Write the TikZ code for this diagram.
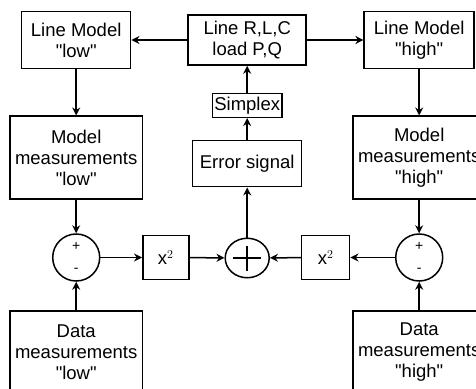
\documentclass[tikz,border=0pt]{standalone}
\usepackage{fontspec}
\setmainfont{Liberation Sans}
\usetikzlibrary{arrows.meta,shapes.geometric}
\newcommand{\qt}[1]{\textquotedbl#1\textquotedbl}

\begin{document}
\begin{tikzpicture}[x=1pt,y=1pt,>={Stealth[length=8pt,width=8pt]},line width=1.5pt]
        \tikzstyle{box}=[draw,align=center,inner sep=0pt,font=\fontsize{18.5}{21}\selectfont]
        \tikzstyle{sum}=[draw,circle,align=center,inner sep=0pt,minimum size=47pt,font=\fontsize{14}{22}\selectfont]
        \clip (0,0) rectangle (476,-388);

        \node[box,minimum width=118pt,minimum height=50pt] (RLC) at (247.2,-40) {Line R,L,C\\load P,Q};
        \node[box,minimum width=109pt,minimum height=56.6pt] (LML) [left of=RLC,node distance=171pt] {Line Model\\\qt{low}};
        \node[box,minimum width=110pt,minimum height=56.6pt] (LMH) [right of=RLC,node distance=172pt] {Line Model\\\qt{high}};
        \node[box,minimum width=69.4pt,minimum height=24pt] (S) [below of=RLC,node distance=65.3pt] {Simplex};
        \node[box,minimum width=109pt,minimum height=46pt] (E) [below of=S,node distance=58.4pt] {Error signal};
        \node[draw,ellipse,inner sep=0pt,minimum width=44pt,minimum height=39.5pt] (SC) [below of=E,node distance=94.3pt] {};

        \node[box,minimum width=132.3pt,minimum height=82.6pt] (MML) [below of=LML,node distance=117.5pt] {Model\\measurements\\\qt{low}};
        \node[sum] (SL) [below of=MML,node distance=100pt] {+\\-};
        \node[box,minimum width=132.3pt,minimum height=82.6pt] (DML) [below of=SL,node distance=95pt] {Data\\measurements\\\qt{low}};
        \node[box,minimum width=46pt,minimum height=44pt] (QL) [right of=SL,node distance=89.6pt] {x$^2$};

        \node[box,minimum width=132pt,minimum height=82.6pt] (MMH) [below of=LMH,node distance=117.5pt] {Model\\measurements\\\qt{high}};
        \node[sum] (SH) [below of=MMH,node distance=100pt] {+\\-};
        \node[box,minimum width=132pt,minimum height=82.6pt] (DMH) [below of=SH,node distance=95pt] {Data\\measurements\\\qt{high}};
        \node[box,minimum width=48pt,minimum height=44pt] (QH) [left of=SH,node distance=93.5pt] {x$^2$};

        \draw ([xshift=-14pt]SC.center) -- ([xshift=14pt]SC.center);
        \draw ([yshift=-12.5pt]SC.center) -- ([yshift=12.5pt]SC.center);

        \draw[->] (RLC) -- (LML);
        \draw[->] (RLC) -- (LMH);
        \draw[->] (LML) -- (MML);
        \draw[->] (LMH) -- (MMH);
        \draw[->] (MML) -- (SL);
        \draw[->] (DML) -- (SL);
        \draw[->] (MMH) -- (SH);
        \draw[->] (DMH) -- (SH);
        \draw[->] (SL) -- (QL);
        \draw[->] (QL) -- (SC);
        \draw[->] (SH) -- (QH);
        \draw[->] (QH) -- (SC);
        \draw[->] (SC) -- (E);
        \draw[->] (E) -- (S);
        \draw[->] (S) -- (RLC);
    \end{tikzpicture}
\end{document}
